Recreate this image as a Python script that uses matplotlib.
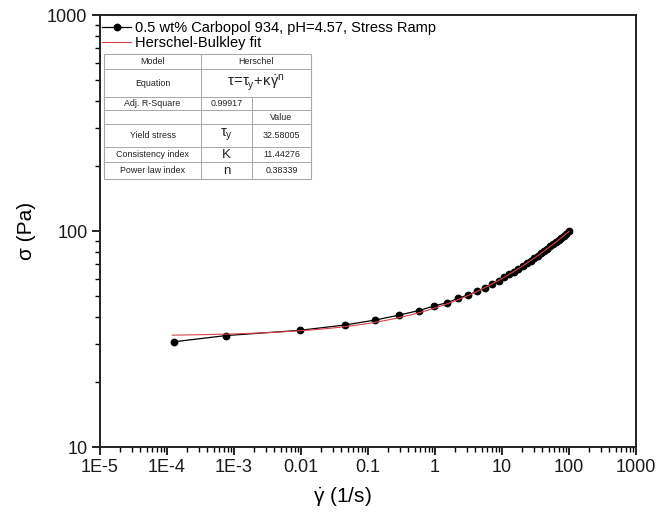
import numpy as np
import matplotlib
matplotlib.use("Agg")
import matplotlib.pyplot as plt
from matplotlib.lines import Line2D
from matplotlib.ticker import LogLocator, FixedLocator, FixedFormatter, NullFormatter

plt.rcParams['font.family'] = ['Liberation Sans', 'DejaVu Sans']
plt.rcParams['mathtext.fontset'] = 'custom'
plt.rcParams['mathtext.rm'] = 'Liberation Sans'
plt.rcParams['mathtext.it'] = 'Liberation Sans'

# ---- data ----
shear_rate = [1.27e-4, 7.6e-4, 0.0097, 0.045, 0.128, 0.29, 0.57, 0.96, 1.52, 2.24,
              3.14, 4.27, 5.6, 7.2, 9.0, 10.8, 12.7, 15.0, 17.6, 20.4,
              23.4, 26.7, 30.3, 34.2, 38.4, 42.9, 47.7, 52.7, 58.2, 63.9,
              70.0, 76.4, 83.2, 90.4, 100.0]
stress = [30.7, 32.8, 34.7, 36.7, 38.7, 40.8, 42.8, 44.9, 46.6, 48.8,
          50.6, 52.6, 54.6, 56.9, 58.9, 61.1, 62.9, 64.9, 66.9, 68.9,
          70.9, 72.9, 74.9, 76.9, 78.9, 80.9, 82.9, 84.9, 86.9, 88.9,
          90.9, 92.9, 94.9, 96.9, 99.6]

# Herschel-Bulkley fit parameters (from table)
yield_stress = 32.58005
consistency = 11.44276
power_index = 0.38339
adj_r2 = 0.99917
fit_range = [1.2e-4, 100.0]

x_ticks = [1e-5, 1e-4, 1e-3, 1e-2, 1e-1, 1, 10, 100, 1000]
x_ticklabels = ["1E-5", "1E-4", "1E-3", "0.01", "0.1", "1", "10", "100", "1000"]
y_ticks = [10, 100, 1000]
y_ticklabels = ["10", "100", "1000"]

series_label = "0.5 wt% Carbopol 934, pH=4.57, Stress Ramp"
fit_label = "Herschel-Bulkley fit"

W, H = 657, 518
fig = plt.figure(figsize=(W / 100, H / 100), dpi=100)
L, R, T, B = 100, 636, 15, 447
ax = fig.add_axes([L / W, 1 - B / H, (R - L) / W, (B - T) / H])

ax.plot(shear_rate, stress, color='black', lw=0.9, marker='o', ms=4.6,
        mfc='black', mec='black', label=series_label, zorder=3)
gx = np.logspace(np.log10(fit_range[0]), np.log10(fit_range[1]), 300)
gy = yield_stress + consistency * gx ** power_index
ax.plot(gx, gy, color='#d9444a', lw=0.8, label=fit_label, zorder=4)

ax.set_xscale('log')
ax.set_yscale('log')
ax.set_xlim(1e-5, 1000)
ax.set_ylim(10, 1000)
ax.xaxis.set_major_locator(FixedLocator(x_ticks))
ax.xaxis.set_major_formatter(FixedFormatter(x_ticklabels))
ax.yaxis.set_major_locator(FixedLocator(y_ticks))
ax.yaxis.set_major_formatter(FixedFormatter(y_ticklabels))
ax.xaxis.set_minor_locator(LogLocator(base=10, subs=np.arange(2, 10), numticks=50))
ax.yaxis.set_minor_locator(LogLocator(base=10, subs=np.arange(2, 10), numticks=50))
ax.xaxis.set_minor_formatter(NullFormatter())
ax.yaxis.set_minor_formatter(NullFormatter())
ax.tick_params(which='major', direction='out', length=6, width=1.2, labelsize=13,
               top=False, right=False, pad=3, color='black', labelcolor='#1a1a1a')
ax.tick_params(which='minor', direction='out', length=3.5, width=1.0,
               top=False, right=False, color='black')
for s in ax.spines.values():
    s.set_linewidth(1.4)
    s.set_color('#222222')

ax.set_ylabel("σ (Pa)", fontsize=15, labelpad=8)
fig.text(342 / W, 1 - 497 / H, r"$\dot{\gamma}$ (1/s)", fontsize=15,
         ha='center', va='center')

leg = ax.legend(loc='upper left', bbox_to_anchor=((102 - L) / (R - L), 1 - (21 - T) / (B - T)),
                frameon=False, fontsize=10.5, handlelength=2.0, handletextpad=0.25,
                labelspacing=0.08, borderaxespad=0, borderpad=0)

# ---- parameter table ----
def fx(x):
    return x / W

def fy(y):
    return 1 - y / H

tc = '#a8a8a8'
xl, xc1, xc2, xr = 104, 201, 252, 311
rows = [54.3, 69.3, 96.7, 110, 124, 146.7, 162.3, 179]
fig.patches.append(plt.Rectangle((fx(xl), fy(rows[-1])), fx(xr) - fx(xl), fy(rows[0]) - fy(rows[-1]),
                                 transform=fig.transFigure, facecolor='white', edgecolor=tc, lw=0.8, zorder=5))
for yy in rows[1:-1]:
    fig.add_artist(Line2D([fx(xl), fx(xr)], [fy(yy), fy(yy)], color=tc, lw=0.7, zorder=6))
fig.add_artist(Line2D([fx(xc1), fx(xc1)], [fy(rows[0]), fy(rows[-1])], color=tc, lw=0.7, zorder=6))
fig.add_artist(Line2D([fx(xc2), fx(xc2)], [fy(rows[2]), fy(rows[-1])], color=tc, lw=0.7, zorder=6))

def cell(text, x, r, size=6.4):
    yc = (rows[r] + rows[r + 1]) / 2
    fig.text(fx(x), fy(yc), text, fontsize=size, ha='center', va='center', zorder=7, color='#222222')

c1 = (xl + xc1) / 2
c2 = (xc1 + xc2) / 2
c3 = (xc2 + xr) / 2
c23 = (xc1 + xr) / 2
cell("Model", c1, 0)
cell("Herschel", c23, 0)
cell("Equation", c1, 1)
cell(r"$\tau\!=\!\tau_{\mathrm{y}}\!+\!\kappa\dot{\gamma}^{\mathrm{n}}$", c23, 1, size=10.5)
cell("Adj. R-Square", c1, 2)
cell(f"{adj_r2:.5f}", c2, 2)
cell("Value", c3, 3)
cell("Yield stress", c1, 4)
cell(r"$\tau_{\mathrm{y}}$", c2, 4, size=10.5)
cell(f"{yield_stress:.5f}", c3, 4)
cell("Consistency index", c1, 5)
cell("K", c2, 5, size=9.5)
cell(f"{consistency:.5f}", c3, 5)
cell("Power law index", c1, 6)
cell("n", c2, 6, size=9.5)
cell(f"{power_index:.5f}", c3, 6)

fig.savefig("out.png", dpi=100)
